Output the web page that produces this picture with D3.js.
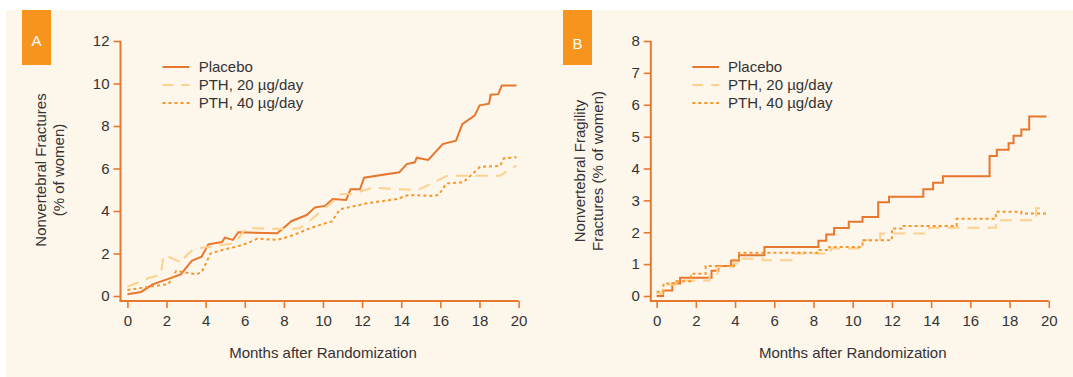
<!DOCTYPE html>
<html>
<head>
<meta charset="utf-8">
<script src="https://cdn.jsdelivr.net/npm/d3@7"></script>
<style>
  html, body { margin: 0; padding: 0; background: #ffffff; }
  svg { display: block; }
  text { font-family: "Liberation Sans", Arial, Helvetica, sans-serif; fill: #333333; }
</style>
</head>
<body>
<svg id="chart" width="1073" height="377"></svg>
<script>
// Months after randomization shown on both x axes
const monthTicks = [0, 2, 4, 6, 8, 10, 12, 14, 16, 18, 20];
const seriesNames = ["Placebo", "PTH, 20 µg/day", "PTH, 40 µg/day"];

// Panel A: nonvertebral fractures (% of women)
const yTicksA = [0, 2, 4, 6, 8, 10, 12];
const placeboA_t = [0, 0.7, 1.32, 2.02, 2.73, 3.29, 3.79, 4.14, 4.84, 4.98, 5.4, 5.67, 7.66, 8.01, 8.4, 9.17, 9.59, 10.1, 10.5, 11.18, 11.41, 11.89, 12.1, 13.9, 14.28, 14.7, 14.79, 15.38, 16.12, 16.8, 17.12, 17.75, 18.01, 18.49, 18.57, 18.96, 19.14, 19.89];
const placeboA_v = [0.08, 0.19, 0.56, 0.78, 1.02, 1.65, 1.85, 2.43, 2.54, 2.75, 2.64, 3.0, 2.95, 3.22, 3.53, 3.81, 4.17, 4.24, 4.56, 4.52, 5.02, 5.02, 5.57, 5.82, 6.21, 6.29, 6.51, 6.4, 7.15, 7.31, 8.09, 8.49, 8.97, 9.05, 9.47, 9.5, 9.91, 9.91];
const pth20A_t = [0, 1.2, 1.7, 1.85, 2.1, 2.6, 2.8, 2.95, 3.4, 4.7, 5.5, 5.85, 6.1, 8.1, 8.82, 9.68, 10.96, 11.47, 12.57, 13.77, 14.87, 16.32, 17.5, 18.1, 19.05, 19.68, 19.89];
const pth20A_v = [0.44, 0.88, 0.99, 1.9, 1.85, 1.64, 1.55, 1.85, 2.22, 2.38, 2.48, 2.95, 3.2, 3.15, 3.19, 3.81, 4.8, 4.8, 5.1, 5.03, 4.99, 5.65, 5.66, 5.66, 5.66, 6.04, 6.13];
const pth40A_t = [0, 0.7, 1.3, 2.1, 2.5, 3.0, 3.5, 3.8, 4.25, 4.75, 5.55, 6.15, 6.65, 7.5, 7.8, 8.5, 9.34, 10.1, 10.44, 10.87, 12.23, 13.77, 14.36, 15.64, 15.9, 16.32, 17.17, 18.03, 19.05, 19.25, 19.89];
const pth40A_v = [0.28, 0.38, 0.46, 0.56, 1.18, 1.1, 1.02, 1.12, 2.0, 2.14, 2.32, 2.49, 2.7, 2.65, 2.67, 2.87, 3.19, 3.42, 3.5, 4.08, 4.36, 4.56, 4.75, 4.71, 4.75, 5.3, 5.35, 6.08, 6.12, 6.48, 6.53];

// Panel B: nonvertebral fragility fractures (% of women), Kaplan-Meier steps
const yTicksB = [0, 1, 2, 3, 4, 5, 6, 7, 8];
const placeboB_t = [0, 0.33, 0.8, 1.2, 2.8, 3.15, 3.8, 4.2, 5.5, 8.25, 8.65, 9.05, 9.8, 10.5, 11.3, 11.85, 13.6, 14.1, 14.6, 16.98, 17.35, 17.95, 18.2, 18.6, 19.0, 19.88];
const placeboB_v = [0, 0.17, 0.39, 0.57, 0.79, 0.94, 1.11, 1.28, 1.54, 1.73, 1.93, 2.13, 2.33, 2.48, 2.94, 3.11, 3.35, 3.55, 3.76, 4.39, 4.59, 4.79, 5.03, 5.22, 5.63, 5.63];
const pth20B_t = [0, 0.3, 0.6, 1.0, 2.7, 3.1, 3.9, 4.2, 5.4, 6.9, 8.9, 10.5, 11.4, 13.9, 17.3, 19.35, 19.9];
const pth20B_v = [0.07, 0.2, 0.35, 0.49, 0.7, 0.91, 1.02, 1.17, 1.12, 1.33, 1.49, 1.75, 1.96, 2.14, 2.38, 2.75, 2.75];
const pth40B_t = [0, 0.35, 1.0, 1.75, 2.5, 3.95, 4.2, 8.3, 8.8, 10.5, 12.0, 12.5, 15.3, 17.3, 18.6, 19.9];
const pth40B_v = [0.13, 0.39, 0.46, 0.7, 0.94, 1.12, 1.36, 1.44, 1.54, 1.75, 2.12, 2.2, 2.42, 2.64, 2.59, 2.59];

const colors = { placebo: "#e8772e", pth20: "#fdd08e", pth40: "#f7962b", axis: "#e8772e", badge: "#f7941d", bg: "#fdf6eb" };
const lineStyles = [
  { color: colors.placebo, dash: null, width: 2 },
  { color: colors.pth20, dash: "12,8", width: 2 },
  { color: colors.pth40, dash: "3,3", width: 2 }
];

const zip = (t, v) => t.map((m, i) => ({ m, v: v[i] }));

const panels = [
  {
    letter: "A", badgeX: 22, badgeW: 29, letterY: 41,
    axisX: 120.5, x0: 127.4, x1: 518.6,
    yMax: 12, yTicks: yTicksA,
    titleLines: ["Nonvertebral Fractures", "(% of women)"], titleX: [40.6, 58.5], titleY: 170,
    legendX0: 162.5, legendX1: 189.4, legendTextX: 198.7,
    xTitleX: 323,
    curve: d3.curveLinear,
    series: [zip(placeboA_t, placeboA_v), zip(pth20A_t, pth20A_v), zip(pth40A_t, pth40A_v)]
  },
  {
    letter: "B", badgeX: 563, badgeW: 29, letterY: 44,
    axisX: 650.8, x0: 656.6, x1: 1048.8,
    yMax: 8, yTicks: yTicksB,
    titleLines: ["Nonvertebral Fragility", "Fractures (% of women)"], titleX: [580.1, 597.8], titleY: 171,
    legendX0: 692.3, legendX1: 719.1, legendTextX: 728,
    xTitleX: 852.7,
    curve: d3.curveStepAfter,
    series: [zip(placeboB_t, placeboB_v), zip(pth20B_t, pth20B_v), zip(pth40B_t, pth40B_v)]
  }
];

const svg = d3.select("#chart");
const yTop = 41, yZero = 296, axisY = 301, fontSize = 15;

// shared cream background behind both panels
svg.append("rect").attr("x", 6).attr("y", 10).attr("width", 1067).attr("height", 367).attr("fill", colors.bg);

panels.forEach(p => {
  const g = svg.append("g");
  const x = d3.scaleLinear().domain([0, 20]).range([p.x0, p.x1]);
  const y = d3.scaleLinear().domain([0, p.yMax]).range([yZero, yTop]);

  // panel letter badge
  g.append("rect").attr("x", p.badgeX).attr("y", 10).attr("width", p.badgeW).attr("height", 55).attr("fill", colors.badge);
  g.append("text").attr("x", p.badgeX + p.badgeW / 2).attr("y", p.letterY).attr("dy", "0.35em")
    .attr("text-anchor", "middle").style("fill", "#ffffff").style("font-size", "15px").text(p.letter);

  // y axis
  const yAxis = g.append("g").attr("transform", `translate(${p.axisX},0)`)
    .call(d3.axisLeft(y).tickValues(p.yTicks).tickSize(7).tickPadding(4).tickSizeOuter(0));
  yAxis.select(".domain").remove();
  yAxis.selectAll(".tick line").attr("stroke", colors.axis).attr("stroke-width", 1.6);
  yAxis.selectAll(".tick text").style("font-size", fontSize + "px").style("font-family", null).style("fill", "#333333");
  yAxis.attr("font-family", null);
  g.append("line").attr("x1", p.axisX).attr("x2", p.axisX).attr("y1", yTop).attr("y2", axisY)
    .attr("stroke", colors.axis).attr("stroke-width", 2);

  // x axis
  const xAxis = g.append("g").attr("transform", `translate(0,${axisY})`)
    .call(d3.axisBottom(x).tickValues(monthTicks).tickSize(7).tickPadding(7.5).tickSizeOuter(0));
  xAxis.select(".domain").remove();
  xAxis.selectAll(".tick line").attr("stroke", colors.axis).attr("stroke-width", 1.6);
  xAxis.selectAll(".tick text").style("font-size", fontSize + "px").style("fill", "#333333");
  xAxis.attr("font-family", null);
  g.append("line").attr("x1", p.axisX - 1).attr("x2", x(20)).attr("y1", axisY).attr("y2", axisY)
    .attr("stroke", colors.axis).attr("stroke-width", 2);

  // axis titles
  g.append("text").attr("x", p.xTitleX).attr("y", 353).attr("dy", "0.35em").attr("text-anchor", "middle")
    .style("font-size", fontSize + "px").text("Months after Randomization");
  p.titleLines.forEach((t, i) => {
    g.append("text").attr("transform", `translate(${p.titleX[i]},${p.titleY}) rotate(-90)`)
      .attr("dy", "0.35em").attr("text-anchor", "middle").style("font-size", fontSize + "px").text(t);
  });

  // data lines
  const line = d3.line().x(d => x(d.m)).y(d => y(d.v)).curve(p.curve);
  p.series.forEach((s, i) => {
    const st = lineStyles[i];
    g.append("path").datum(s).attr("d", line).attr("fill", "none")
      .attr("stroke", st.color).attr("stroke-width", st.width)
      .attr("stroke-dasharray", st.dash).attr("stroke-linejoin", "miter");
  });

  // legend
  const legendYs = [67, 85, 103];
  seriesNames.forEach((name, i) => {
    const st = lineStyles[i];
    g.append("line").attr("x1", p.legendX0).attr("x2", p.legendX1).attr("y1", legendYs[i]).attr("y2", legendYs[i])
      .attr("stroke", st.color).attr("stroke-width", st.width)
      .attr("stroke-dasharray", i === 1 ? "11,8" : st.dash);
    g.append("text").attr("x", p.legendTextX).attr("y", legendYs[i]).attr("dy", "0.35em")
      .style("font-size", fontSize + "px").text(name);
  });
});
</script>
</body>
</html>
